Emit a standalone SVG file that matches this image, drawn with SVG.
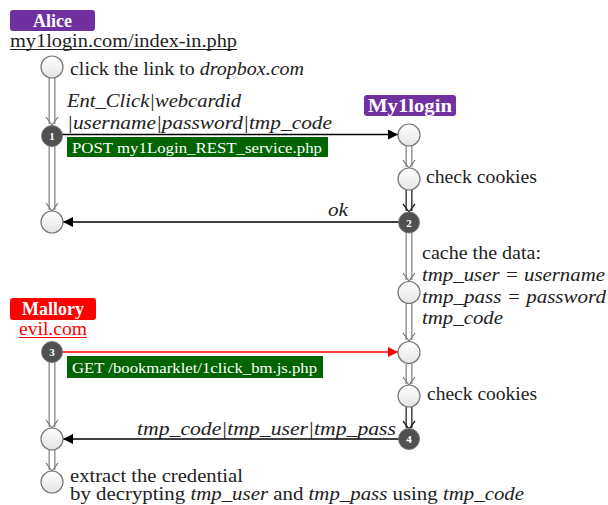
<svg xmlns="http://www.w3.org/2000/svg" width="608" height="505" viewBox="0 0 608 505">
<defs>
<linearGradient id="cg" x1="0" y1="0" x2="0" y2="1">
<stop offset="0" stop-color="#ffffff"/>
<stop offset="1" stop-color="#e4e4e4"/>
</linearGradient>
<marker id="ah" viewBox="0 0 10 10" refX="10" refY="5" markerWidth="10" markerHeight="10" markerUnits="userSpaceOnUse" orient="auto">
<path d="M0,0 L10,5 L0,10 z" fill="#000"/>
</marker>
<marker id="ahr" viewBox="0 0 10 10" refX="10" refY="5" markerWidth="10" markerHeight="10" markerUnits="userSpaceOnUse" orient="auto">
<path d="M0,0 L10,5 L0,10 z" fill="#ff0000"/>
</marker>
</defs>
<style>
text{font-family:'Liberation Serif','DejaVu Serif','Noto Serif',serif;fill:#222;font-size:18px}
.it{font-style:italic}
.lbl{fill:#fff;font-weight:bold;font-size:18px}
.gt{fill:#fff;font-size:15.5px}
.circ{fill:url(#cg);stroke:#777;stroke-width:1.2}
.dark{fill:#505050;stroke:#777;stroke-width:1}
.num{fill:#fff;font-size:11px;font-weight:bold}
.dout{stroke:#888;stroke-width:7;fill:none}
.din{stroke:#fff;stroke-width:4.4;fill:none}
.dhead{stroke:#777;stroke-width:1.2;fill:none}
.bout{stroke:#222;stroke-width:7;fill:none}
.bhead{stroke:#222;stroke-width:1.3;fill:none}
.msg{stroke:#000;stroke-width:1.3;fill:none}
</style>

<g id="connectors">
<g>
<line class="dout" x1="52" y1="78" x2="52" y2="124"/><line class="din" x1="52" y1="78" x2="52" y2="124"/>
<polyline class="dhead" points="46,117 52,125 58,117"/>
<line class="dout" x1="52" y1="146" x2="52" y2="210"/><line class="din" x1="52" y1="146" x2="52" y2="210"/>
<polyline class="dhead" points="46,203 52,211 58,203"/>
<line class="dout" x1="52" y1="362" x2="52" y2="427"/><line class="din" x1="52" y1="362" x2="52" y2="427"/>
<polyline class="dhead" points="46,420 52,428 58,420"/>
<line class="dout" x1="52" y1="450" x2="52" y2="470"/><line class="din" x1="52" y1="450" x2="52" y2="470"/>
<polyline class="dhead" points="46,463 52,471 58,463"/>
</g>
<g>
<line class="dout" x1="409" y1="146" x2="409" y2="167"/><line class="din" x1="409" y1="146" x2="409" y2="167"/>
<polyline class="dhead" points="403,160 409,168 415,160"/>
<line class="bout" x1="409" y1="190" x2="409" y2="211"/><line class="din" x1="409" y1="190" x2="409" y2="211"/>
<polyline class="bhead" points="403,204 409,212 415,204"/>
<line class="dout" x1="409" y1="233" x2="409" y2="280"/><line class="din" x1="409" y1="233" x2="409" y2="280"/>
<polyline class="dhead" points="403,273 409,281 415,273"/>
<line class="dout" x1="409" y1="304" x2="409" y2="340"/><line class="din" x1="409" y1="304" x2="409" y2="340"/>
<polyline class="dhead" points="403,333 409,341 415,333"/>
<line class="dout" x1="409" y1="364" x2="409" y2="384"/><line class="din" x1="409" y1="364" x2="409" y2="384"/>
<polyline class="dhead" points="403,377 409,385 415,377"/>
<line class="bout" x1="409" y1="407" x2="409" y2="428"/><line class="din" x1="409" y1="407" x2="409" y2="428"/>
<polyline class="bhead" points="403,421 409,429 415,421"/>
</g>
<line class="msg" x1="62" y1="134.5" x2="398" y2="134.5" marker-end="url(#ah)"/>
<line class="msg" x1="399" y1="222" x2="63" y2="222" marker-end="url(#ah)"/>
<line x1="62" y1="352" x2="398" y2="352" stroke="#ff0000" stroke-width="1.3" marker-end="url(#ahr)"/>
<line class="msg" x1="399" y1="439" x2="63" y2="439" stroke="#333" marker-end="url(#ah)"/>
</g>

<g id="alice">
<rect x="10" y="10" width="85" height="21" rx="3" fill="#7030a0"/>
<text class="lbl" x="52.5" y="26.5" text-anchor="middle">Alice</text>
<text x="10" y="47" textLength="227" lengthAdjust="spacingAndGlyphs">my1login.com/index-in.php</text>
<line x1="10" y1="49.5" x2="237" y2="49.5" stroke="#222" stroke-width="1"/>
</g>

<g id="a1">
<circle class="circ" cx="52" cy="67" r="11"/>
<text x="70" y="75" textLength="234" lengthAdjust="spacingAndGlyphs">click the link to <tspan class="it">dropbox.com</tspan></text>
</g>

<g id="a2">
<circle class="dark" cx="52" cy="136" r="10.5"/>
<text class="num" x="52" y="140" text-anchor="middle">1</text>
<text class="it" x="67" y="107" textLength="174" lengthAdjust="spacingAndGlyphs">Ent_Click|webcardid</text>
<text class="it" x="67" y="129" textLength="265" lengthAdjust="spacingAndGlyphs">|username|password|tmp_code</text>
<rect x="67" y="137" width="261" height="20" fill="#006400"/>
<text class="gt" x="72" y="152.5" textLength="250" lengthAdjust="spacingAndGlyphs">POST my1Login_REST_service.php</text>
</g>

<g id="a3">
<circle class="circ" cx="52" cy="222" r="11"/>
</g>

<g id="my1login">
<rect x="364" y="95" width="92" height="21" rx="3" fill="#7030a0"/>
<text class="lbl" x="410" y="111.5" text-anchor="middle" textLength="84" lengthAdjust="spacingAndGlyphs">My1login</text>
</g>

<g id="m1">
<circle class="circ" cx="409" cy="135" r="11"/>
</g>

<g id="m2">
<circle class="circ" cx="409" cy="179" r="11"/>
<text x="426" y="183" textLength="111" lengthAdjust="spacingAndGlyphs">check cookies</text>
</g>

<g id="m3">
<circle class="dark" cx="409" cy="222.5" r="10.5"/>
<text class="num" x="409" y="226.5" text-anchor="middle">2</text>
<text class="it" x="328" y="216" textLength="20" lengthAdjust="spacingAndGlyphs">ok</text>
</g>

<g id="m4">
<circle class="circ" cx="409" cy="292.5" r="11"/>
<text x="422" y="259" textLength="119" lengthAdjust="spacingAndGlyphs">cache the data:</text>
<text class="it" x="422" y="281" textLength="183" lengthAdjust="spacingAndGlyphs">tmp_user = username</text>
<text class="it" x="422" y="303" textLength="184" lengthAdjust="spacingAndGlyphs">tmp_pass = password</text>
<text class="it" x="422" y="324" textLength="81" lengthAdjust="spacingAndGlyphs">tmp_code</text>
</g>

<g id="mallory">
<rect x="10" y="298" width="86" height="22" rx="3" fill="#ff0000"/>
<text class="lbl" x="53" y="315" text-anchor="middle">Mallory</text>
<text x="19" y="335" style="fill:#ff0000" textLength="68" lengthAdjust="spacingAndGlyphs">evil.com</text>
<line x1="19" y1="337.5" x2="87" y2="337.5" stroke="#ff0000" stroke-width="1"/>
</g>

<g id="e1">
<circle class="dark" cx="52" cy="352" r="10.5"/>
<text class="num" x="52" y="356" text-anchor="middle">3</text>
<rect x="67" y="356" width="256" height="22" fill="#006400"/>
<text class="gt" x="72" y="373" textLength="245" lengthAdjust="spacingAndGlyphs">GET /bookmarklet/1click_bm.js.php</text>
</g>

<g id="m5">
<circle class="circ" cx="409" cy="352.5" r="11"/>
</g>

<g id="m6">
<circle class="circ" cx="409" cy="396" r="11"/>
<text x="427" y="400" textLength="110" lengthAdjust="spacingAndGlyphs">check cookies</text>
</g>

<g id="m7">
<circle class="dark" cx="409" cy="439" r="10.5"/>
<text class="num" x="409" y="443" text-anchor="middle">4</text>
<text class="it" x="137" y="435" textLength="259" lengthAdjust="spacingAndGlyphs">tmp_code|tmp_user|tmp_pass</text>
</g>

<g id="e2">
<circle class="circ" cx="52" cy="439" r="11"/>
</g>

<g id="e3">
<circle class="circ" cx="52" cy="482" r="11"/>
<text x="70" y="482" textLength="173" lengthAdjust="spacingAndGlyphs">extract the credential</text>
<text x="70" y="500" textLength="454" lengthAdjust="spacingAndGlyphs">by decrypting <tspan class="it">tmp_user</tspan> and <tspan class="it">tmp_pass</tspan> using <tspan class="it">tmp_code</tspan></text>
</g>
</svg>
